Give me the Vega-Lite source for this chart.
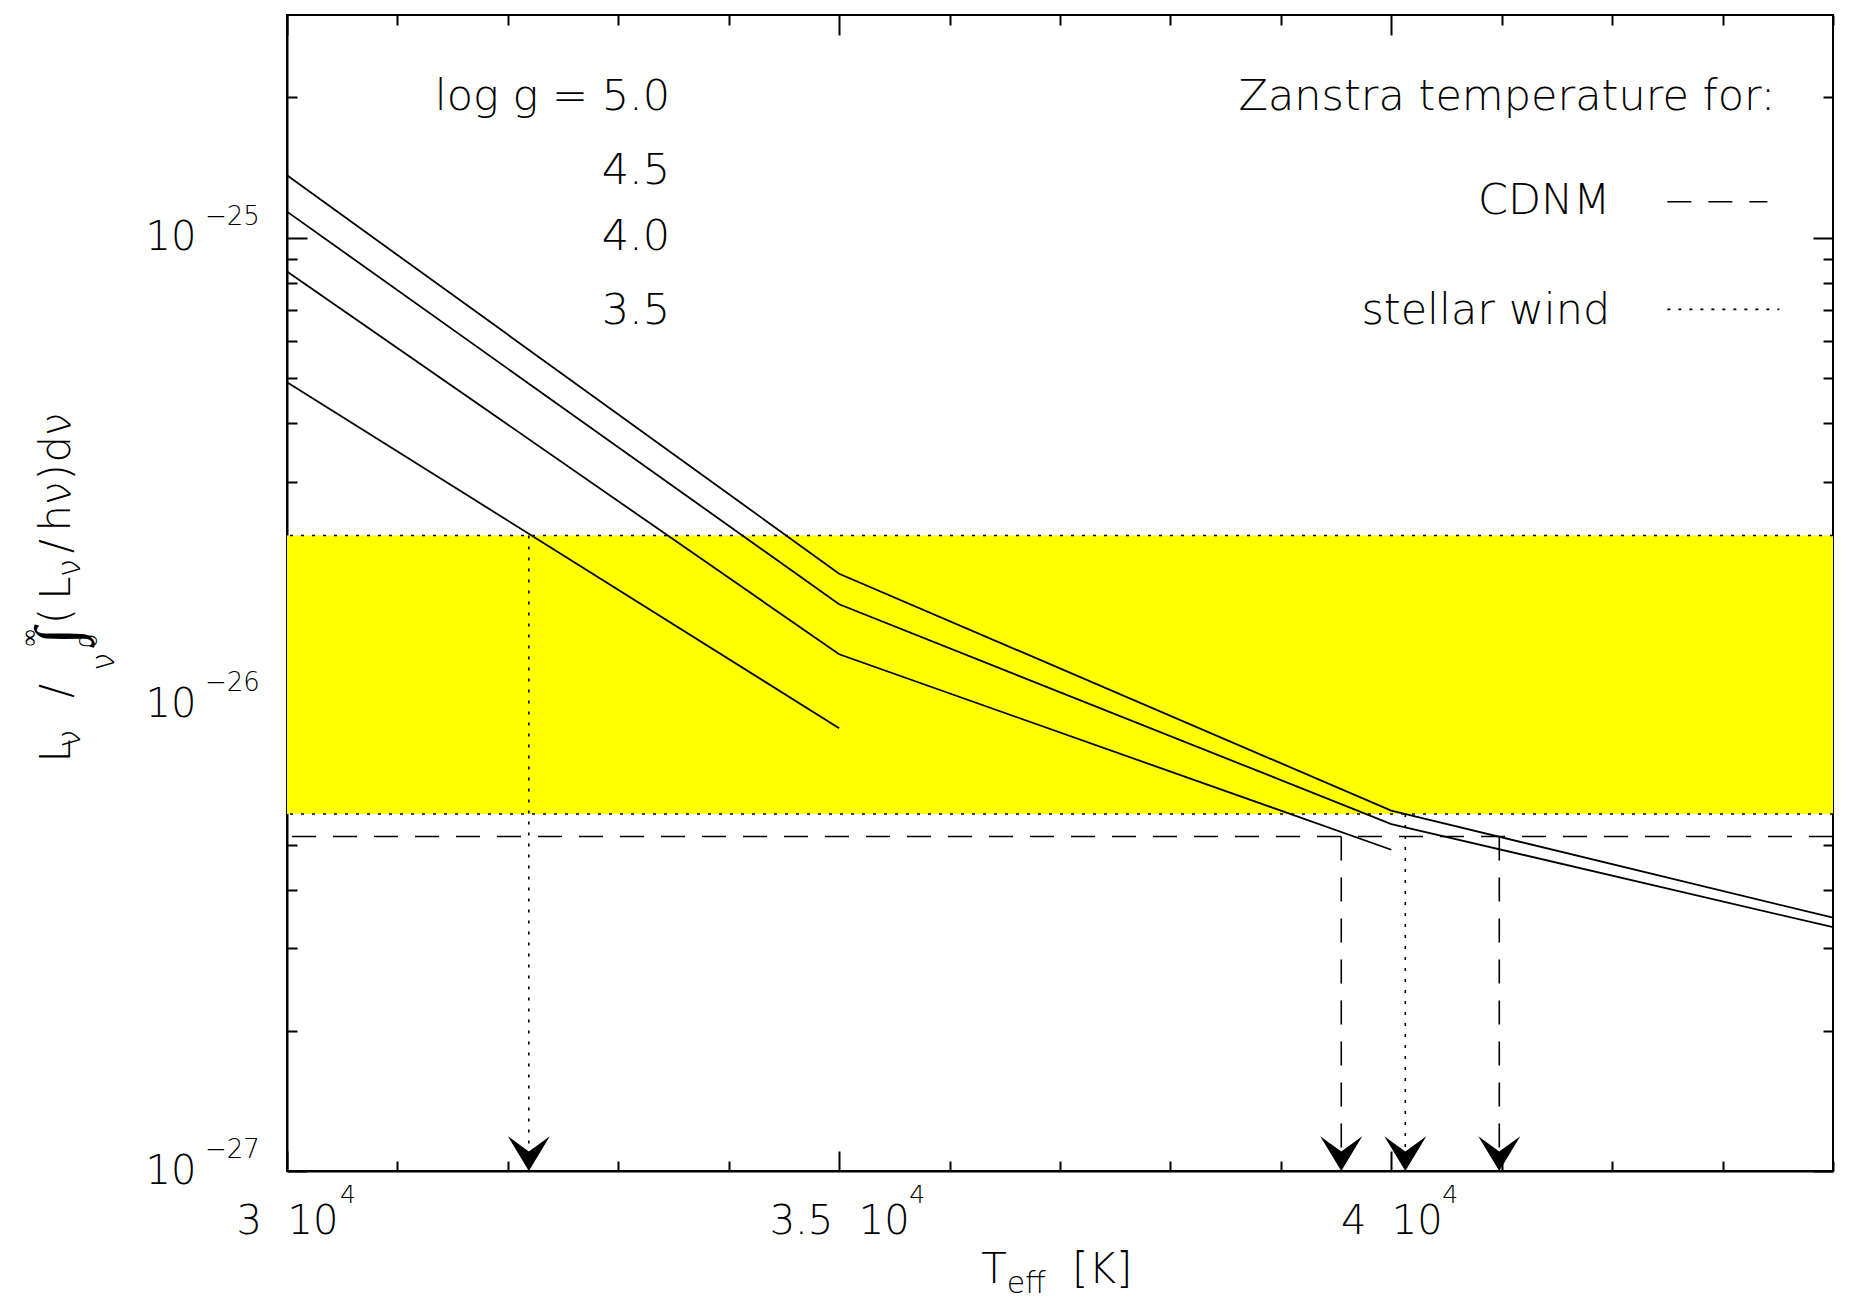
{
  "$schema": "https://vega.github.io/schema/vega-lite/v6.json",
  "width": 1546,
  "height": 1156,
  "autosize": {"type": "none"},
  "padding": {"left": 287, "top": 15, "right": 17, "bottom": 142},
  "background": "white",
  "config": {
    "view": {"stroke": "black", "strokeWidth": 2},
    "font": "DejaVu Sans",
    "axis": {"grid": false, "labelFont": "DejaVu Sans", "labelFontWeight": 200, "labelColor": "black", "tickColor": "black", "tickWidth": 2, "domainColor": "black", "domainWidth": 2, "title": null}
  },
  "datasets": {
    "band": [{"Tlo": 30000, "Thi": 44000, "lo": 5.82e-27, "hi": 2.30e-26}],
    "hlines": [
      {"method": "stellar wind", "L": 2.30e-26},
      {"method": "stellar wind", "L": 5.82e-27},
      {"method": "CDNM", "L": 5.21e-27}
    ],
    "zanstra": [
      {"method": "stellar wind", "T": 32190, "from": 2.30e-26},
      {"method": "CDNM", "T": 39547, "from": 5.21e-27},
      {"method": "stellar wind", "T": 40127, "from": 5.82e-27},
      {"method": "CDNM", "T": 40978, "from": 5.21e-27}
    ],
    "models": [
      {"logg": "5.0", "T": 30000, "L": 1.36e-25},
      {"logg": "5.0", "T": 35000, "L": 1.905e-26},
      {"logg": "5.0", "T": 40000, "L": 5.92e-27},
      {"logg": "5.0", "T": 44000, "L": 3.49e-27},
      {"logg": "4.5", "T": 30000, "L": 1.137e-25},
      {"logg": "4.5", "T": 35000, "L": 1.638e-26},
      {"logg": "4.5", "T": 40000, "L": 5.54e-27},
      {"logg": "4.5", "T": 44000, "L": 3.33e-27},
      {"logg": "4.0", "T": 30000, "L": 8.46e-26},
      {"logg": "4.0", "T": 35000, "L": 1.28e-26},
      {"logg": "4.0", "T": 40000, "L": 4.88e-27},
      {"logg": "3.5", "T": 30000, "L": 4.90e-26},
      {"logg": "3.5", "T": 35000, "L": 8.89e-27}
    ],
    "annotations": [
      {"text": "log g = 5.0", "T": 33469, "L": 1.88e-25},
      {"text": "4.5", "T": 33469, "L": 1.305e-25},
      {"text": "4.0", "T": 33469, "L": 9.42e-26},
      {"text": "3.5", "T": 33469, "L": 6.54e-26},
      {"text": "Zanstra temperature for:", "T": 43478, "L": 1.88e-25},
      {"text": "CDNM", "T": 41984, "L": 1.125e-25},
      {"text": "stellar wind", "T": 41984, "L": 6.54e-26}
    ],
    "legend_samples": [
      {"method": "CDNM", "T1": 42500, "T2": 43406, "L": 1.194e-25},
      {"method": "stellar wind", "T1": 42500, "T2": 43514, "L": 7.02e-26}
    ],
    "y_exponents": [
      {"text": "−25", "T": 29257, "L": 1e-25},
      {"text": "−26", "T": 29257, "L": 1e-26},
      {"text": "−27", "T": 29257, "L": 1e-27}
    ],
    "x_exponents": [
      {"text": "4", "T": 30480, "L": 8.54e-28},
      {"text": "4", "T": 35634, "L": 8.54e-28},
      {"text": "4", "T": 40462, "L": 8.54e-28}
    ],
    "ytitle_main": [
      {"text": "L", "T": 28034, "L": 7.95e-27},
      {"text": "/", "T": 28034, "L": 1.069e-26},
      {"text": "(", "T": 28034, "L": 1.546e-26},
      {"text": "L", "T": 28034, "L": 1.775e-26},
      {"text": "/", "T": 28034, "L": 2.183e-26},
      {"text": "h", "T": 28034, "L": 2.506e-26},
      {"text": "ν", "T": 28034, "L": 2.834e-26},
      {"text": ")", "T": 28034, "L": 3.143e-26},
      {"text": "d", "T": 28034, "L": 3.520e-26},
      {"text": "ν", "T": 28034, "L": 3.981e-26}
    ],
    "ytitle_integral": [
      {"text": "∫", "T": 28107, "L": 1.401e-26}
    ],
    "ytitle_sub": [
      {"text": "ν", "T": 28125, "L": 8.44e-27},
      {"text": "ν", "T": 28125, "L": 1.959e-26},
      {"text": "ν", "T": 28433, "L": 1.233e-26}
    ],
    "ytitle_small": [
      {"text": "∞", "T": 27736, "L": 1.387e-26},
      {"text": "0", "T": 28279, "L": 1.367e-26}
    ],
    "xtitle_main": [
      {"text": "T", "T": 36404, "L": 5.76e-28},
      {"text": "[K]", "T": 37382, "L": 5.76e-28}
    ],
    "xtitle_sub": [
      {"text": "eff", "T": 36694, "L": 5.48e-28}
    ]
  },
  "layer": [
    {
      "data": {"name": "band"},
      "mark": {"type": "rect", "color": "#FFFF00"},
      "encoding": {
        "x": {"field": "Tlo", "type": "quantitative", "scale": {"domain": [30000, 44000], "nice": false, "zero": false},
          "axis": {"orient": "bottom", "values": [30000, 31000, 32000, 33000, 34000, 35000, 36000, 37000, 38000, 39000, 40000, 41000, 42000, 43000, 44000],
            "tickSize": {"condition": {"test": "datum.value % 5000 === 0", "value": -20}, "value": -10},
            "labelExpr": "datum.value === 30000 ? '3\u00a0\u00a010' : datum.value === 35000 ? '3.5\u00a0\u00a010' : datum.value === 40000 ? '4\u00a0\u00a010' : ''",
            "labelFontSize": 40, "labelPadding": 82, "labelBaseline": "alphabetic", "labelFlush": false, "labelOverlap": false}},
        "x2": {"field": "Thi"},
        "y": {"field": "lo", "type": "quantitative", "scale": {"type": "log", "domain": [1e-27, 3e-25], "nice": false},
          "axis": {"orient": "left", "values": [1e-27, 2e-27, 3e-27, 4e-27, 5e-27, 6e-27, 7e-27, 8e-27, 9e-27, 1e-26, 2e-26, 3e-26, 4e-26, 5e-26, 6e-26, 7e-26, 8e-26, 9e-26, 1e-25, 2e-25],
            "tickSize": {"condition": {"test": "abs(log(datum.value)/LN10 - round(log(datum.value)/LN10)) < 0.001", "value": -20}, "value": -10},
            "labelExpr": "abs(log(datum.value)/LN10 - round(log(datum.value)/LN10)) < 0.001 ? '10' : ''",
            "labelFontSize": 40, "labelPadding": 111, "labelBaseline": "alphabetic", "labelOffset": 12, "labelFlush": false, "labelOverlap": false}},
        "y2": {"field": "hi"}
      }
    },
    {
      "data": {"name": "hlines"},
      "mark": {"type": "rule", "color": "black", "strokeWidth": 1.6},
      "encoding": {
        "y": {"field": "L", "type": "quantitative", "axis": null},
        "strokeDash": {"field": "method", "type": "nominal", "scale": {"domain": ["CDNM", "stellar wind"], "range": [[24, 17], [3, 8]]}, "legend": null}
      }
    },
    {
      "data": {"name": "zanstra"},
      "mark": {"type": "rule", "color": "black", "strokeWidth": 1.6},
      "encoding": {
        "x": {"field": "T", "type": "quantitative",
          "axis": {"orient": "top", "domain": false, "labels": false, "values": [30000, 31000, 32000, 33000, 34000, 35000, 36000, 37000, 38000, 39000, 40000, 41000, 42000, 43000, 44000],
            "tickSize": {"condition": {"test": "datum.value % 5000 === 0", "value": -20}, "value": -10}}},
        "y": {"field": "from", "type": "quantitative",
          "axis": {"orient": "right", "domain": false, "labels": false, "values": [1e-27, 2e-27, 3e-27, 4e-27, 5e-27, 6e-27, 7e-27, 8e-27, 9e-27, 1e-26, 2e-26, 3e-26, 4e-26, 5e-26, 6e-26, 7e-26, 8e-26, 9e-26, 1e-25, 2e-25],
            "tickSize": {"condition": {"test": "abs(log(datum.value)/LN10 - round(log(datum.value)/LN10)) < 0.001", "value": -20}, "value": -10}}},
        "y2": {"datum": 1.05e-27},
        "strokeDash": {"field": "method", "type": "nominal", "legend": null}
      }
    },
    {
      "data": {"name": "zanstra"},
      "mark": {"type": "point", "shape": "M0,0L-1,-1.66L0,-0.93L1,-1.66Z", "size": 1764, "filled": true, "color": "black", "opacity": 1, "strokeWidth": 0},
      "encoding": {
        "x": {"field": "T", "type": "quantitative", "axis": null},
        "y": {"datum": 1e-27, "axis": null}
      }
    },
    {
      "data": {"name": "models"},
      "mark": {"type": "line", "color": "black", "strokeWidth": 1.8},
      "encoding": {
        "x": {"field": "T", "type": "quantitative", "axis": null},
        "y": {"field": "L", "type": "quantitative", "axis": null},
        "detail": {"field": "logg", "type": "nominal"}
      }
    },
    {
      "data": {"name": "legend_samples"},
      "mark": {"type": "rule", "color": "black", "strokeWidth": 1.6},
      "encoding": {
        "x": {"field": "T1", "type": "quantitative", "axis": null},
        "x2": {"field": "T2"},
        "y": {"field": "L", "type": "quantitative", "axis": null},
        "strokeDash": {"field": "method", "type": "nominal", "legend": null}
      }
    },
    {
      "data": {"name": "annotations"},
      "mark": {"type": "text", "align": "right", "baseline": "alphabetic", "fontSize": 43, "fontWeight": 200, "font": "DejaVu Sans", "color": "black"},
      "encoding": {
        "x": {"field": "T", "type": "quantitative", "axis": null},
        "y": {"field": "L", "type": "quantitative", "axis": null},
        "text": {"field": "text"}
      }
    },
    {
      "data": {"name": "y_exponents"},
      "mark": {"type": "text", "align": "left", "baseline": "alphabetic", "dy": -13, "fontSize": 26, "fontWeight": 200, "font": "DejaVu Sans", "color": "black"},
      "encoding": {
        "x": {"field": "T", "type": "quantitative", "axis": null},
        "y": {"field": "L", "type": "quantitative", "axis": null},
        "text": {"field": "text"}
      }
    },
    {
      "data": {"name": "x_exponents"},
      "mark": {"type": "text", "align": "left", "baseline": "alphabetic", "fontSize": 25, "fontWeight": 200, "font": "DejaVu Sans", "color": "black"},
      "encoding": {
        "x": {"field": "T", "type": "quantitative", "axis": null},
        "y": {"field": "L", "type": "quantitative", "axis": null},
        "text": {"field": "text"}
      }
    },
    {
      "data": {"name": "ytitle_main"},
      "mark": {"type": "text", "align": "center", "baseline": "alphabetic", "angle": 270, "fontSize": 42, "fontWeight": 200, "font": "DejaVu Sans", "color": "black"},
      "encoding": {
        "x": {"field": "T", "type": "quantitative", "axis": null},
        "y": {"field": "L", "type": "quantitative", "axis": null},
        "text": {"field": "text"}
      }
    },
    {
      "data": {"name": "ytitle_integral"},
      "mark": {"type": "text", "align": "center", "baseline": "alphabetic", "angle": 270, "fontSize": 62, "fontWeight": 200, "font": "DejaVu Sans", "color": "black"},
      "encoding": {
        "x": {"field": "T", "type": "quantitative", "axis": null},
        "y": {"field": "L", "type": "quantitative", "axis": null},
        "text": {"field": "text"}
      }
    },
    {
      "data": {"name": "ytitle_sub"},
      "mark": {"type": "text", "align": "center", "baseline": "alphabetic", "angle": 270, "fontSize": 32, "fontWeight": 200, "font": "DejaVu Sans", "color": "black"},
      "encoding": {
        "x": {"field": "T", "type": "quantitative", "axis": null},
        "y": {"field": "L", "type": "quantitative", "axis": null},
        "text": {"field": "text"}
      }
    },
    {
      "data": {"name": "ytitle_small"},
      "mark": {"type": "text", "align": "center", "baseline": "alphabetic", "angle": 270, "fontSize": 24, "fontWeight": 200, "font": "DejaVu Sans", "color": "black"},
      "encoding": {
        "x": {"field": "T", "type": "quantitative", "axis": null},
        "y": {"field": "L", "type": "quantitative", "axis": null},
        "text": {"field": "text"}
      }
    },
    {
      "data": {"name": "xtitle_main"},
      "mark": {"type": "text", "align": "center", "baseline": "alphabetic", "fontSize": 42, "fontWeight": 200, "font": "DejaVu Sans", "color": "black"},
      "encoding": {
        "x": {"field": "T", "type": "quantitative", "axis": null},
        "y": {"field": "L", "type": "quantitative", "axis": null},
        "text": {"field": "text"}
      }
    },
    {
      "data": {"name": "xtitle_sub"},
      "mark": {"type": "text", "align": "center", "baseline": "alphabetic", "fontSize": 30, "fontWeight": 200, "font": "DejaVu Sans", "color": "black"},
      "encoding": {
        "x": {"field": "T", "type": "quantitative", "axis": null},
        "y": {"field": "L", "type": "quantitative", "axis": null},
        "text": {"field": "text"}
      }
    }
  ],
  "resolve": {"axis": {"x": "independent", "y": "independent"}}
}
